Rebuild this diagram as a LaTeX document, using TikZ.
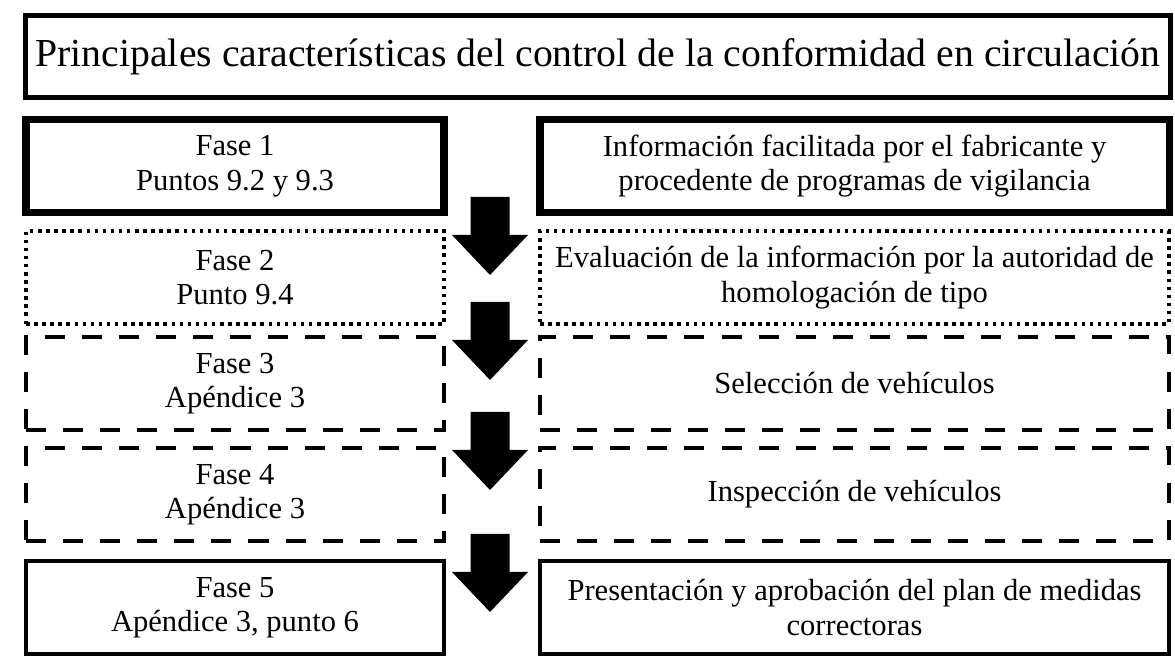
\documentclass[tikz,border=0pt]{standalone}
\usepackage{fontspec}
\setmainfont{Liberation Serif}
\usepackage{tikz}

\begin{document}
\begin{tikzpicture}[
    titlebox/.style={draw, line width=2.8pt, minimum width=22.9cm, minimum height=1.64cm,
        inner sep=0pt, font=\fontsize{22.6}{26}\selectfont},
    phase/.style={draw, minimum height=1.86cm, inner sep=0pt, align=center,
        font=\fontsize{17.4}{19.6}\selectfont},
    leftbox/.style={phase, minimum width=8.36cm},
    rightbox/.style={phase, minimum width=12.58cm},
    boldline/.style={line width=4pt},
    dotline/.style={line width=2pt, dash pattern=on 2pt off 2.6pt},
    dashline/.style={line width=2.3pt, dash pattern=on 11.4pt off 9.7pt},
    plainline/.style={line width=2.3pt}
  ]
    \useasboundingbox (0,0) rectangle (23.5,13.26);

    % Title
    \node[titlebox] (title) at (11.96,12.13)
        {Principales características del control de la conformidad en circulación};

    % Phases (left column)
    \node[leftbox, boldline] (fase1) at (4.70,9.94) {Fase 1\\Puntos 9.2 y 9.3};
    \node[leftbox, dotline] (fase2) at (4.70,7.71) {Fase 2\\Punto 9.4};
    \node[leftbox, dashline] (fase3) at (4.70,5.59) {Fase 3\\Apéndice 3};
    \node[leftbox, dashline] (fase4) at (4.70,3.37) {Fase 4\\Apéndice 3};
    \node[leftbox, plainline] (fase5) at (4.70,1.11) {Fase 5\\Apéndice 3, punto 6};

    % Descriptions (right column)
    \node[rightbox, boldline] (info) at (17.09,9.94)
        {Información facilitada por el fabricante y\\procedente de programas de vigilancia};
    \node[rightbox, dotline] (eval) at (17.09,7.71)
        {Evaluación de la información por la autoridad de\\homologación de tipo};
    \node[rightbox, dashline] (selec) at (17.09,5.59) {Selección de vehículos};
    \node[rightbox, dashline] (insp) at (17.09,3.37) {Inspección de vehículos};
    \node[rightbox, plainline] (plan) at (17.09,1.11)
        {Presentación y aprobación del plan de medidas\\correctoras};

    % Block arrows between the phases
    \foreach \top in {9.32,7.22,5.02,2.58} {
        \fill (9.41,\top) -- (10.19,\top) -- (10.19,\top-0.76) -- (10.56,\top-0.76)
            -- (9.80,\top-1.56) -- (9.04,\top-0.76) -- (9.41,\top-0.76) -- cycle;
    }

\end{tikzpicture}
\end{document}
